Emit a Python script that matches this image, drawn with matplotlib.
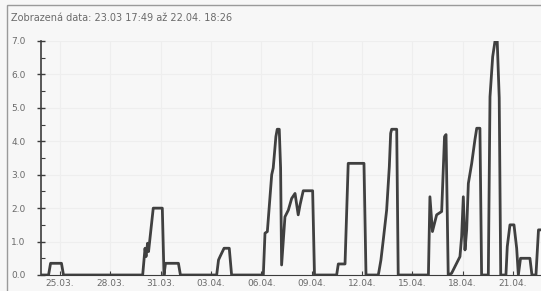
import matplotlib.pyplot as plt
from matplotlib.patches import Rectangle
from matplotlib.ticker import MultipleLocator

# den od 23.03. 00:00 a namerena hodnota
dny = [0.87, 1.32, 1.44, 2.09, 2.21, 6.93, 7.07, 7.13, 7.22, 7.28,
       7.56, 8.10, 8.20, 8.29, 9.06, 9.18, 11.34, 11.45, 11.54, 11.78,
       12.09, 12.23, 14.12, 14.22, 14.36, 14.62, 14.71, 14.87, 14.95, 15.07,
       15.15, 15.21, 15.41, 15.61, 15.81, 16.01, 16.20, 16.31, 16.50, 17.06,
       17.17, 18.49, 18.59, 18.99, 19.18, 20.12, 20.24, 20.97, 21.01, 21.13,
       21.27, 21.47, 21.63, 21.71, 21.77, 22.07, 22.16, 23.96, 24.05, 24.20,
       24.45, 24.75, 24.92, 25.01, 25.14, 25.34, 25.64, 25.84, 25.94, 26.04,
       26.14, 26.24, 26.34, 26.54, 26.73, 26.84, 27.03, 27.13, 27.53, 27.63,
       27.79, 27.93, 28.06, 28.18, 28.27, 28.58, 28.66, 28.82, 29.06, 29.22,
       29.32, 29.45, 30.01, 30.13, 30.37, 30.52, 30.73]
hodnoty = [0, 0, 0.35, 0.35, 0, 0, 0.8, 0.55, 0.95, 0.7,
           2.0, 2.0, 0, 0.35, 0.35, 0, 0, 0.45, 0.55, 0.8,
           0.8, 0, 0, 1.25, 1.3, 3.0, 3.2, 4.14, 4.36, 4.36,
           3.2, 0.3, 1.74, 1.94, 2.29, 2.44, 1.8, 2.1, 2.52, 2.52,
           0, 0, 0.33, 0.33, 3.34, 3.34, 0, 0, 0.1, 0.45,
           1.05, 1.94, 3.24, 4.24, 4.36, 4.36, 0, 0, 2.34, 1.3,
           1.8, 1.9, 4.14, 4.2, 0, 0.05, 0.35, 0.55, 1.15, 2.34,
           0.75, 1.35, 2.74, 3.34, 4.04, 4.39, 4.39, 0, 0, 5.33,
           6.53, 7.0, 7.0, 5.3, 0, 0, 0.85, 1.5, 1.5, 0.8,
           0, 0.5, 0.5, 0, 0, 1.35, 1.35]

tick_dny = [2, 5, 8, 11, 14, 17, 20, 23, 26, 29]
tick_popisky = ['25.03.', '28.03.', '31.03.', '03.04.', '06.04.',
                '09.04.', '12.04.', '15.04.', '18.04.', '21.04.']
titulek = 'Zobrazená data: 23.03 17:49 až 22.04. 18:26'

seda = '#6a6a6a'
fig = plt.figure(figsize=(5.41, 2.91), dpi=100, facecolor='#f7f7f7')
ax = fig.add_axes([41 / 541, 16 / 291, 1 - 41 / 541, (275 - 41) / 291])
ax.set_facecolor('#f7f7f7')

# ramecek panelu
fig.patches.append(Rectangle((7 / 541, -0.1), 1.2, 1 - 5 / 291 + 0.1,
                             transform=fig.transFigure, fill=False,
                             edgecolor='#9a9a9a', linewidth=1.0))

ax.plot(dny, hodnoty, color='#404040', linewidth=2.0,
        solid_joinstyle='round', solid_capstyle='round')

ax.set_xlim(0.87, 30.67)
ax.set_ylim(0, 7.0)
ax.set_xticks(tick_dny)
ax.set_xticklabels(tick_popisky)
ax.yaxis.set_major_locator(MultipleLocator(1))
ax.yaxis.set_minor_locator(MultipleLocator(0.5))
ax.yaxis.set_major_formatter(lambda v, p: f'{v:.1f}')

ax.grid(True, color='#eeeeee', linewidth=0.8)
ax.set_axisbelow(True)
for s in ['top', 'right']:
    ax.spines[s].set_visible(False)
ax.spines['left'].set_color('#3c3c3c')
ax.spines['bottom'].set_color('#3c3c3c')
ax.spines['left'].set_linewidth(1.2)

ax.tick_params(axis='y', which='major', direction='inout', length=6,
               width=1, color='#3c3c3c', labelsize=6.5, labelcolor=seda, pad=8)
ax.tick_params(axis='y', which='minor', direction='in', length=3,
               width=0.8, color='#3c3c3c')
ax.tick_params(axis='x', direction='in', length=3, width=0.8,
               color='#3c3c3c', labelsize=6.5, labelcolor=seda, pad=3)

fig.text(11 / 541, 1 - 18 / 291, titulek, fontsize=7, color=seda,
         va='center', ha='left')

plt.savefig('out.png', dpi=100, facecolor=fig.get_facecolor())
